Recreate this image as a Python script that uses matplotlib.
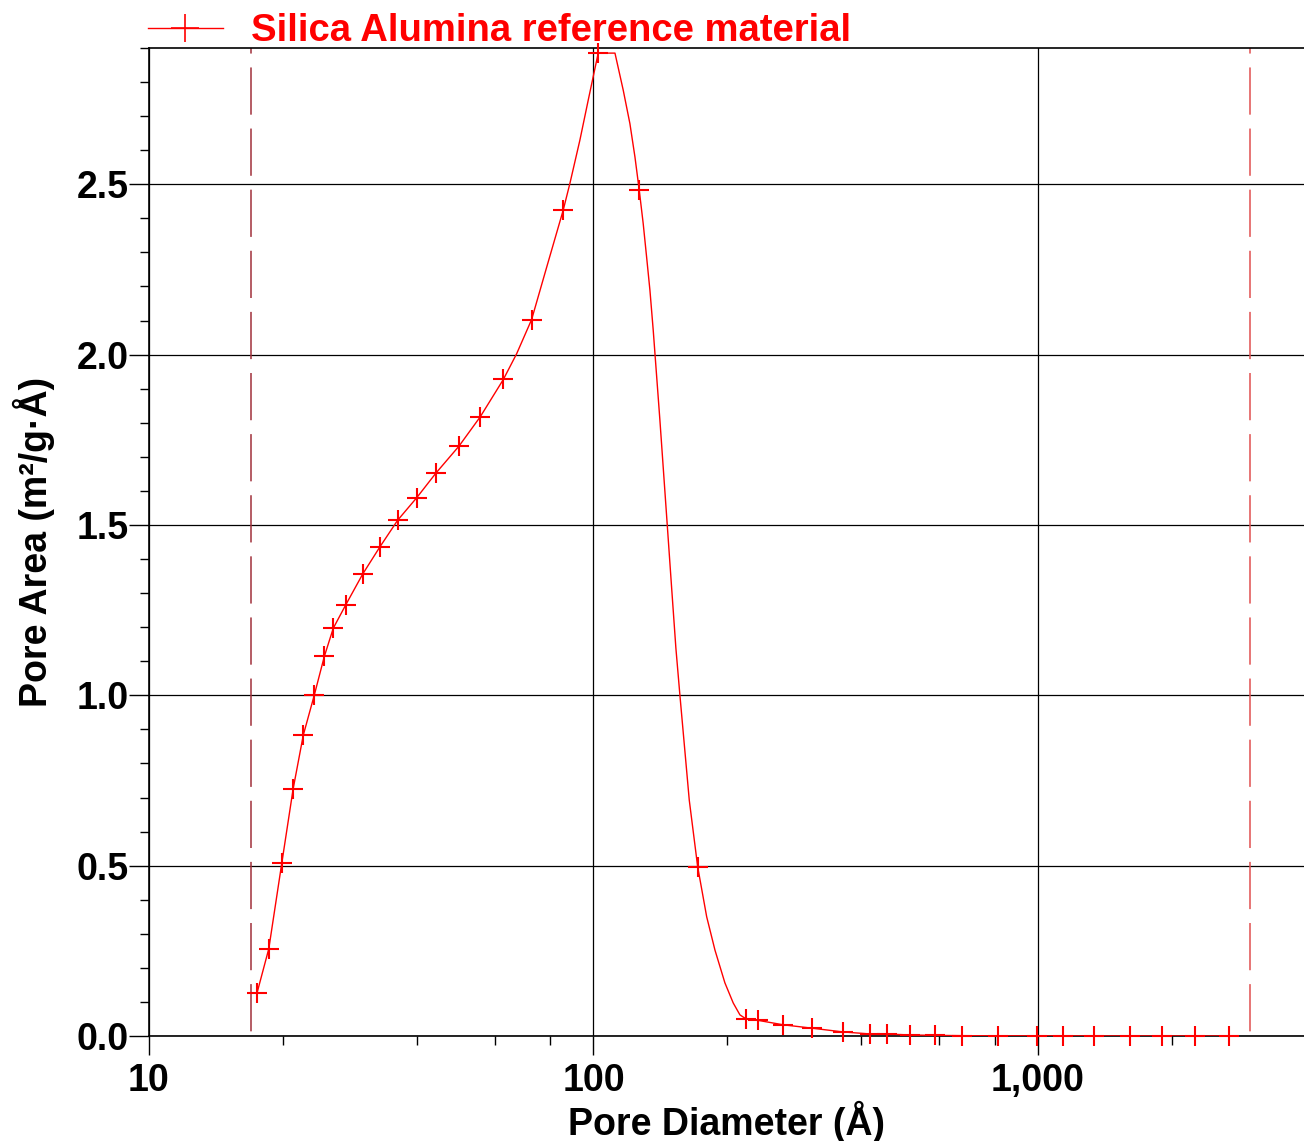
import matplotlib
matplotlib.use("Agg")
import matplotlib.pyplot as plt
from matplotlib.lines import Line2D
from matplotlib.ticker import FixedLocator, FuncFormatter, MultipleLocator

plt.rcParams['font.family'] = ['Liberation Sans', 'DejaVu Sans']
plt.rcParams['font.weight'] = 'bold'
plt.rcParams['axes.labelweight'] = 'bold'
plt.rcParams['lines.scale_dashes'] = False

# measured points (pore diameter in A, pore area in m2/g.A)
pore_diam = [17.5, 18.6, 19.9, 21.1, 22.24, 23.55, 24.8, 25.98, 27.7, 30.26,
             33.09, 36.27, 40.03, 44.2, 49.8, 55.6, 62.7, 72.6, 85.5, 102.5,
             126.8, 171.6, 220.0, 234.5, 266.9, 310.0, 364.0, 419.0, 457.0,
             515.0, 586.0, 675.0, 813.0, 995.0, 1138.0, 1337.0, 1611.0,
             1901.0, 2255.0, 2690.0]
pore_area = [0.126, 0.256, 0.508, 0.725, 0.883, 1.001, 1.114, 1.197, 1.265,
             1.356, 1.436, 1.514, 1.58, 1.652, 1.731, 1.817, 1.927, 2.103,
             2.424, 2.885, 2.482, 0.497, 0.051, 0.046, 0.033, 0.023, 0.012,
             0.006, 0.006, 0.003, 0.002, 0.001, 0.0006, 0.0004, 0.0003,
             0.0002, 0.0001, 0.0001, 0.0, 0.0]

# smoothed distribution curve
fit_diam = [17.5, 18.6, 19.9, 21.1, 22.24, 23.55, 24.8, 25.98, 27.7, 30.26,
            33.09, 36.27, 40.03, 44.2, 49.8, 55.6, 62.7, 67.2, 72.6, 78.5,
            85.5, 88.5, 93.2, 97.3, 102.5, 111.8, 116.7, 120.8, 124.0, 126.8,
            129.4, 131.7, 134.0, 136.3, 141.1, 146.6, 149.9, 153.3, 156.5,
            164.3, 171.6, 179.8, 187.7, 197.6, 206.3, 213.6, 220.0, 234.5,
            266.9, 310.0, 364.0, 419.0, 457.0, 515.0, 586.0, 675.0, 813.0,
            995.0, 1138.0, 1337.0, 1611.0, 1901.0, 2255.0, 2690.0]
fit_area = [0.126, 0.256, 0.508, 0.725, 0.883, 1.001, 1.114, 1.197, 1.265,
            1.356, 1.436, 1.514, 1.58, 1.652, 1.731, 1.817, 1.927, 2.003,
            2.103, 2.257, 2.424, 2.502, 2.629, 2.746, 2.885, 2.885, 2.776,
            2.678, 2.580, 2.482, 2.385, 2.287, 2.189, 2.072, 1.808, 1.499,
            1.318, 1.138, 1.001, 0.692, 0.497, 0.350, 0.252, 0.156, 0.097,
            0.062, 0.051, 0.046, 0.033, 0.023, 0.012, 0.006, 0.006, 0.003,
            0.002, 0.001, 0.0006, 0.0004, 0.0003, 0.0002, 0.0001, 0.0001,
            0.0, 0.0]

# integration limits
lower_limit = 17.0
upper_limit = 3000.0

x_range = (10, 3970)
y_range = (0, 2.9)

fig = plt.figure(figsize=(13.04, 11.41), dpi=100)
ax = fig.add_axes([149 / 1304, 105 / 1141, 1155 / 1304, 988 / 1141])

ax.set_xscale('log')
ax.set_xlim(*x_range)
ax.set_ylim(*y_range)

ax.grid(True, which='major', color='black', linewidth=0.9)
ax.set_axisbelow(True)

limit_dash = (30, (34, 10))
ax.plot([lower_limit, lower_limit], [y_range[1], y_range[0]], color='#a0303a',
        linewidth=1.1, linestyle=limit_dash)
ax.plot([upper_limit, upper_limit], [y_range[1], y_range[0]], color='#e05050',
        linewidth=1.1, linestyle=limit_dash)

ax.plot(fit_diam, fit_area, color='red', linewidth=1.0, zorder=3)
ax.plot(pore_diam, pore_area, linestyle='none', marker='+', markersize=14,
        markeredgewidth=1.5, color='red', zorder=4, clip_on=False)

ax.xaxis.set_major_locator(FixedLocator([10, 100, 1000]))
ax.xaxis.set_minor_locator(FixedLocator([20, 40, 60, 80, 200, 400, 600, 800, 2000]))
ax.xaxis.set_major_formatter(FuncFormatter(lambda v, p: '{:,.0f}'.format(v)))
ax.xaxis.set_minor_formatter(FuncFormatter(lambda v, p: ''))
ax.yaxis.set_major_locator(MultipleLocator(0.5))
ax.yaxis.set_minor_locator(MultipleLocator(0.1))
ax.yaxis.set_major_formatter(FuncFormatter(lambda v, p: '%.1f' % v))

ax.tick_params(axis='x', which='major', direction='out', length=13.7, width=1,
               pad=6, labelsize=27)
ax.tick_params(axis='x', which='minor', direction='out', length=6.5, width=1)
ax.tick_params(axis='y', which='major', direction='out', length=14.4, width=1,
               pad=0.5, labelsize=27)
ax.tick_params(axis='y', which='minor', direction='out', length=6.7, width=1)

for side in ['left', 'bottom', 'top']:
    ax.spines[side].set_linewidth(1.2)
ax.spines['right'].set_visible(False)

ax.set_xlabel('Pore Diameter (Å)', fontsize=27, labelpad=1)
ax.set_ylabel('Pore Area (m²/g·Å)', fontsize=27, labelpad=15)

handle = Line2D([], [], color='red', linewidth=1.0, marker='+', markersize=20,
                markeredgewidth=1.2)
leg = ax.legend([handle], ['Silica Alumina reference material'],
                loc='lower left', bbox_to_anchor=(-0.001, 0.999), frameon=False,
                fontsize=27.5, handlelength=1.97, handletextpad=0.72,
                borderaxespad=0.0, borderpad=0.0)
for t in leg.get_texts():
    t.set_color('red')

fig.savefig('out.png', dpi=100)
